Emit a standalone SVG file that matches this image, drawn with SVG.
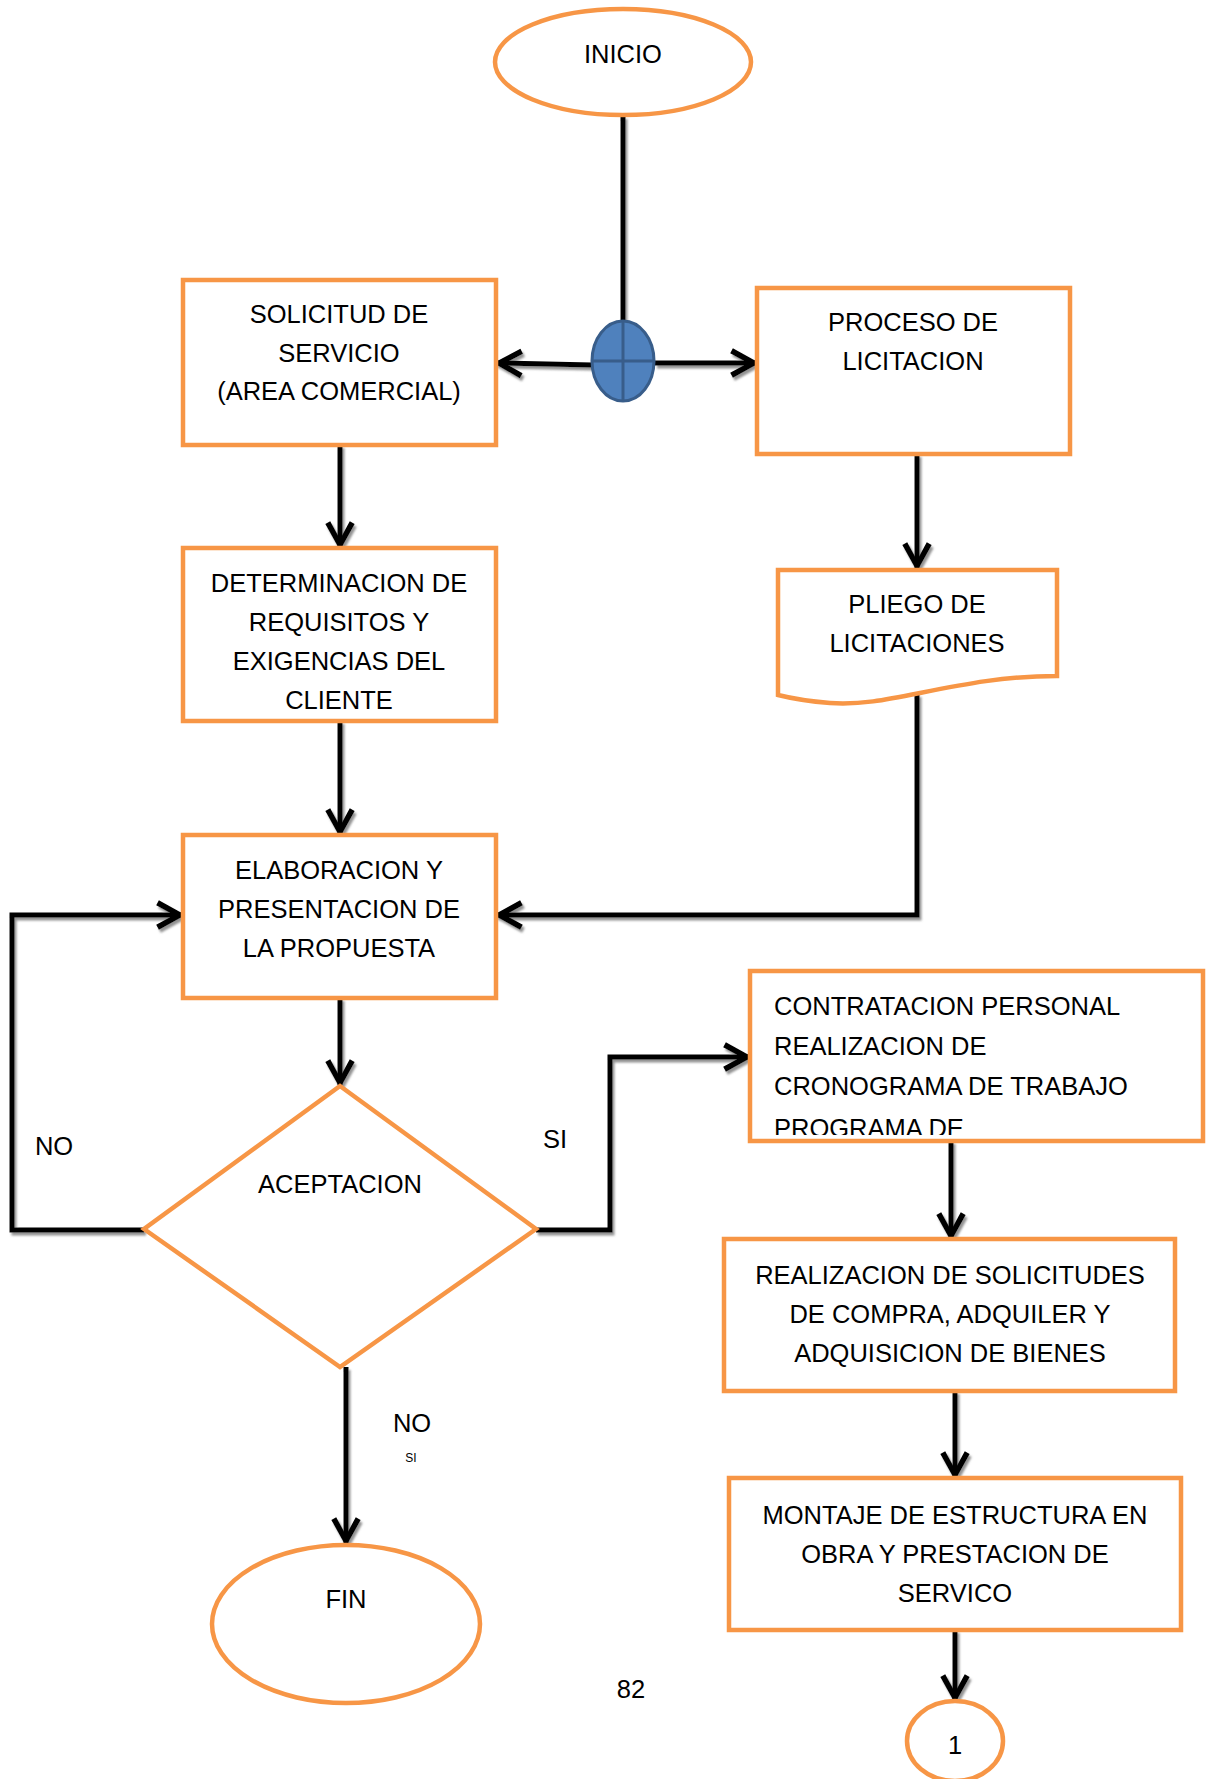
<svg xmlns="http://www.w3.org/2000/svg" width="1207" height="1779" viewBox="0 0 1207 1779">
<style>
.box{fill:#fff;stroke:#F79646;stroke-width:4.5}
.t{font-family:"Liberation Sans",Arial,sans-serif;font-size:25.5px;fill:#000;text-anchor:middle}
.tl{font-family:"Liberation Sans",Arial,sans-serif;font-size:25.5px;fill:#000;text-anchor:start}
.c{fill:none;stroke:#000;stroke-width:5;marker-end:url(#ah)}
.cn{fill:none;stroke:#000;stroke-width:5}
</style>
<defs>
<marker id="ah" markerUnits="userSpaceOnUse" markerWidth="40" markerHeight="40" viewBox="-30 -15 36 30" refX="0" refY="0" orient="auto">
<path d="M-22,-11 L-2,0 L-22,11" fill="none" stroke="#000" stroke-width="5" stroke-linejoin="miter"/>
</marker>
<filter id="sh" x="-10%" y="-10%" width="120%" height="120%">
<feDropShadow dx="2" dy="3" stdDeviation="0.8" flood-color="#777" flood-opacity="0.8"/>
</filter>
<clipPath id="clipC"><rect x="752" y="973" width="449" height="162"/></clipPath>
</defs>
<rect width="1207" height="1779" fill="#fff"/>

<g id="connectors" filter="url(#sh)">
<line class="cn" x1="623" y1="116" x2="623" y2="322" stroke-width="4"/>
<path class="c" d="M592,365 L497,363"/>
<path class="c" d="M655,363 L756,363"/>
<path class="c" d="M340,445 V547"/>
<path class="c" d="M340,721 V834"/>
<path class="c" d="M917,454 V568"/>
<path class="c" d="M917,694 V915 H497"/>
<path class="c" d="M340,998 V1085"/>
<path class="c" d="M144,1230 H12 V915 H182"/>
<path class="c" d="M536,1230 H610 V1057 H749"/>
<path class="c" d="M951,1141 V1238"/>
<path class="c" d="M955,1391 V1477"/>
<path class="c" d="M955,1630 V1700"/>
<path class="c" d="M346,1367 V1543"/>
</g>

<g id="inicio">
<ellipse cx="623" cy="62" rx="128" ry="53" fill="#fff" stroke="#F79646" stroke-width="4.5"/>
<text class="t" x="623" y="63">INICIO</text>
</g>

<g id="conector-paralelo">
<ellipse cx="623" cy="361" rx="31" ry="40" fill="#4F81BD" stroke="#385D8A" stroke-width="3"/>
<line x1="592" y1="361" x2="654" y2="361" stroke="#385D8A" stroke-width="3"/>
<line x1="623" y1="321" x2="623" y2="401" stroke="#385D8A" stroke-width="3"/>
</g>

<g id="solicitud">
<rect class="box" x="183" y="280" width="313" height="165"/>
<text class="t" x="339" y="323">SOLICITUD DE</text>
<text class="t" x="339" y="362">SERVICIO</text>
<text class="t" x="339" y="400">(AREA COMERCIAL)</text>
</g>

<g id="proceso">
<rect class="box" x="757" y="288" width="313" height="166"/>
<text class="t" x="913" y="331">PROCESO DE</text>
<text class="t" x="913" y="370">LICITACION</text>
</g>

<g id="determinacion">
<rect class="box" x="183" y="548" width="313" height="173"/>
<text class="t" x="339" y="592">DETERMINACION DE</text>
<text class="t" x="339" y="631">REQUISITOS Y</text>
<text class="t" x="339" y="670">EXIGENCIAS DEL</text>
<text class="t" x="339" y="709">CLIENTE</text>
</g>

<g id="pliego">
<path class="box" d="M778,570 H1057 V676 C1005,676 965,684 920,693 C885,700 860,705 830,703 C805,701 790,698 778,695 Z"/>
<text class="t" x="917" y="613">PLIEGO DE</text>
<text class="t" x="917" y="652">LICITACIONES</text>
</g>

<g id="elaboracion">
<rect class="box" x="183" y="835" width="313" height="163"/>
<text class="t" x="339" y="879">ELABORACION Y</text>
<text class="t" x="339" y="918">PRESENTACION DE</text>
<text class="t" x="339" y="957">LA PROPUESTA</text>
</g>

<g id="aceptacion">
<polygon class="box" points="340,1086 536,1229 340,1367 144,1229"/>
<text class="t" x="340" y="1193">ACEPTACION</text>
</g>

<g id="labels">
<text class="t" x="54" y="1155">NO</text>
<text class="t" x="555" y="1148">SI</text>
<text class="t" x="412" y="1432">NO</text>
<text class="t" x="411" y="1462" style="font-size:12px">SI</text>
<text class="t" x="631" y="1698">82</text>
</g>

<g id="contratacion">
<rect class="box" x="750" y="971" width="453" height="170"/>
<g clip-path="url(#clipC)">
<text class="tl" x="774" y="1015">CONTRATACION PERSONAL</text>
<text class="tl" x="774" y="1055">REALIZACION DE</text>
<text class="tl" x="774" y="1095">CRONOGRAMA DE TRABAJO</text>
<text class="tl" x="774" y="1137">PROGRAMA DE</text>
</g>
</g>

<g id="realizacion">
<rect class="box" x="724" y="1239" width="451" height="152"/>
<text class="t" x="950" y="1284">REALIZACION DE SOLICITUDES</text>
<text class="t" x="950" y="1323">DE COMPRA, ADQUILER Y</text>
<text class="t" x="950" y="1362">ADQUISICION DE BIENES</text>
</g>

<g id="montaje">
<rect class="box" x="729" y="1478" width="452" height="152"/>
<text class="t" x="955" y="1524">MONTAJE DE ESTRUCTURA EN</text>
<text class="t" x="955" y="1563">OBRA Y PRESTACION DE</text>
<text class="t" x="955" y="1602">SERVICO</text>
</g>

<g id="conector-1">
<ellipse cx="955" cy="1741" rx="48" ry="40" fill="#fff" stroke="#F79646" stroke-width="4.5"/>
<text class="t" x="955" y="1754">1</text>
</g>

<g id="fin">
<ellipse cx="346" cy="1624" rx="134" ry="79" fill="#fff" stroke="#F79646" stroke-width="4.5"/>
<text class="t" x="346" y="1608">FIN</text>
</g>
</svg>
